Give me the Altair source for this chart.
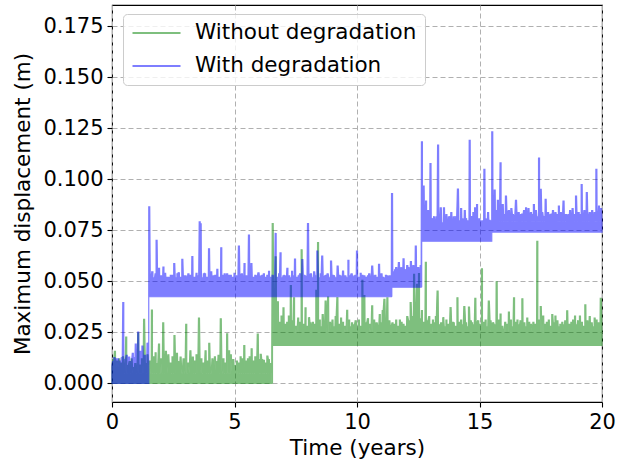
import altair as alt
import pandas as pd

FONT = "DejaVu Sans"
SERIES = ["Without degradation", "With degradation"]
COLORS = ["#008000", "#0000ff"]

# ---- Without degradation -------------------------------------------------
# steady bands: start / end time (years), floor and dense-band top (m)
green_seg_start = [0.0, 0.5, 6.55]
green_seg_end = [0.5, 6.55, 20.0]
green_seg_base = [0.0, 0.0, 0.0186]
green_seg_top = [0.008, 0.005, 0.0245]

# large transient peaks: time (years) and peak displacement (m)
green_peak_t = [
    0.12, 0.3,
    0.58, 0.8, 1.07, 1.31, 1.45, 1.63, 1.78, 1.92, 2.09, 2.3, 2.55, 2.8, 3.03,
    3.2, 3.3, 3.55, 3.82, 3.97, 4.2, 4.44, 4.7, 4.85, 5.1, 5.25, 5.4, 5.55,
    5.7, 5.95, 6.07, 6.2, 6.34, 6.45,
    6.56, 6.68, 6.77, 7.0, 7.15, 7.3, 7.43, 7.6, 7.74, 7.9, 8.04, 8.2, 8.34,
    8.41, 8.6, 8.72, 8.82, 9.0, 9.2, 9.35, 9.6, 9.8, 10.08, 10.22, 10.3, 10.45,
    10.62, 10.8, 10.93, 11.05, 11.12, 11.24, 11.45, 11.6, 11.75, 11.9, 12.05,
    12.19, 12.33, 12.45, 12.53, 12.65, 12.81, 12.95, 13.1, 13.29, 13.45, 13.52,
    13.65, 13.82, 13.95, 14.1, 14.25, 14.38, 14.57, 14.7, 14.83, 14.95, 15.1,
    15.25, 15.38, 15.55, 15.7, 15.86, 16.05, 16.2, 16.41, 16.55, 16.75, 16.95,
    17.1, 17.2, 17.36, 17.5, 17.6, 17.75, 17.97, 18.1, 18.3, 18.58, 18.75,
    18.9, 19.1, 19.32, 19.5, 19.7, 19.85, 19.95,
]
green_peak_v = [
    0.016, 0.012,
    0.0227, 0.012, 0.0245, 0.0317, 0.014, 0.036, 0.015, 0.0196, 0.030, 0.014,
    0.0235, 0.0129, 0.029, 0.016, 0.0129, 0.032, 0.016, 0.0196, 0.013, 0.0317,
    0.0243, 0.014, 0.011, 0.013, 0.0186, 0.012, 0.017, 0.0245, 0.0145, 0.0113,
    0.0137, 0.010,
    0.0786, 0.062, 0.040, 0.037, 0.030, 0.048, 0.0423, 0.032, 0.0655, 0.037,
    0.0325, 0.030, 0.0456, 0.069, 0.034, 0.0407, 0.0423, 0.031, 0.0423, 0.032,
    0.0358, 0.030, 0.031, 0.0505, 0.043, 0.032, 0.038, 0.030, 0.034, 0.036,
    0.0415, 0.0423, 0.030, 0.031, 0.031, 0.029, 0.033, 0.0399, 0.0538, 0.0489,
    0.0538, 0.036, 0.0593, 0.033, 0.031, 0.0456, 0.030, 0.0325, 0.031, 0.0374,
    0.030, 0.042, 0.031, 0.038, 0.0377, 0.030, 0.042, 0.031, 0.0562, 0.031,
    0.0407, 0.030, 0.0498, 0.034, 0.030, 0.035, 0.0423, 0.031, 0.0415, 0.032,
    0.029, 0.030, 0.0697, 0.0377, 0.033, 0.030, 0.034, 0.033, 0.029, 0.0356,
    0.030, 0.033, 0.033, 0.0385, 0.033, 0.032, 0.030, 0.042,
]

# small ripples along the top of each band
green_ripple_t = [
    0.05, 0.2, 0.38, 0.45,
    0.65, 0.72, 0.9, 0.95, 1.15, 1.22, 1.38, 1.55, 1.7, 1.85, 2.0, 2.15, 2.2,
    2.4, 2.47, 2.65, 2.7, 2.92, 3.1, 3.38, 3.45, 3.65, 3.72, 3.9, 4.1, 4.3,
    4.35, 4.55, 4.62, 4.78, 4.95, 5.0, 5.18, 5.32, 5.48, 5.62, 5.78, 5.85, 6.0,
    6.13, 6.27, 6.4, 6.5,
    6.85, 6.92, 7.08, 7.22, 7.37, 7.5, 7.67, 7.82, 7.97, 8.1, 8.27, 8.48, 8.55,
    8.66, 8.9, 9.08, 9.13, 9.28, 9.43, 9.5, 9.68, 9.75, 9.88, 9.95, 10.15,
    10.38, 10.52, 10.7, 10.87, 11.0, 11.18, 11.32, 11.38, 11.52, 11.68, 11.82,
    11.97, 12.12, 12.25, 12.39, 12.6, 12.72, 12.88, 13.02, 13.18, 13.22, 13.38,
    13.58, 13.72, 13.88, 14.03, 14.18, 14.32, 14.45, 14.5, 14.63, 14.77, 14.88,
    15.03, 15.17, 15.32, 15.45, 15.62, 15.78, 15.93, 16.12, 16.28, 16.35, 16.48,
    16.62, 16.68, 16.83, 16.88, 17.03, 17.28, 17.43, 17.68, 17.83, 17.9, 18.03,
    18.18, 18.23, 18.38, 18.45, 18.5, 18.67, 18.82, 18.97, 19.03, 19.18, 19.25,
    19.4, 19.45, 19.58, 19.63, 19.78, 19.9,
]
green_ripple_v = [
    0.012, 0.011, 0.010, 0.013,
    0.009, 0.011, 0.008, 0.010, 0.009, 0.012, 0.010, 0.011, 0.013, 0.010,
    0.012, 0.011, 0.016, 0.010, 0.013, 0.015, 0.011, 0.012, 0.010, 0.011,
    0.014, 0.012, 0.010, 0.011, 0.012, 0.011, 0.014, 0.012, 0.010, 0.016,
    0.012, 0.009, 0.010, 0.012, 0.011, 0.013, 0.011, 0.013, 0.012, 0.012,
    0.010, 0.012, 0.009,
    0.030, 0.033, 0.029, 0.033, 0.031, 0.028, 0.030, 0.029, 0.028, 0.030,
    0.029, 0.031, 0.028, 0.029, 0.030, 0.028, 0.033, 0.029, 0.030, 0.028,
    0.031, 0.028, 0.029, 0.031, 0.028, 0.030, 0.029, 0.031, 0.028, 0.030,
    0.029, 0.031, 0.028, 0.029, 0.028, 0.030, 0.028, 0.031, 0.033, 0.036,
    0.032, 0.030, 0.031, 0.029, 0.030, 0.033, 0.029, 0.028, 0.029, 0.030,
    0.028, 0.030, 0.029, 0.030, 0.028, 0.031, 0.029, 0.030, 0.029, 0.030,
    0.028, 0.031, 0.029, 0.031, 0.028, 0.029, 0.031, 0.028, 0.030, 0.029,
    0.031, 0.030, 0.028, 0.030, 0.029, 0.031, 0.029, 0.031, 0.028, 0.030,
    0.031, 0.028, 0.030, 0.029, 0.031, 0.029, 0.031, 0.029, 0.031, 0.030,
    0.028, 0.031, 0.029, 0.030, 0.028, 0.031, 0.029,
]

# ---- With degradation ----------------------------------------------------
blue_seg_start = [0.0, 1.5, 11.42, 12.64, 15.5]
blue_seg_end = [1.5, 11.42, 12.64, 15.5, 20.0]
blue_seg_base = [0.0, 0.0425, 0.0472, 0.0697, 0.0742]
blue_seg_top = [0.009, 0.0495, 0.053, 0.0757, 0.0795]

blue_peak_t = [
    0.1, 0.25, 0.46, 0.6, 0.7, 0.85, 0.97, 1.07, 1.15, 1.24, 1.35, 1.45,
    1.52, 1.65, 1.82, 1.92, 2.1, 2.26, 2.4, 2.54, 2.73, 2.87, 3.0, 3.12, 3.28,
    3.45, 3.58, 3.62, 3.8, 3.96, 4.05, 4.15, 4.3, 4.46, 4.6, 4.7, 4.85, 5.0,
    5.18, 5.3, 5.41, 5.59, 5.69, 5.85, 5.98, 6.1, 6.2, 6.41, 6.55, 6.68, 6.88,
    7.05, 7.16, 7.35, 7.47, 7.62, 7.77, 7.88, 8.0, 8.12, 8.25, 8.38, 8.58, 8.7,
    8.8, 8.94, 9.05, 9.21, 9.32, 9.43, 9.52, 9.65, 9.78, 9.9, 10.0, 10.15,
    10.3, 10.4, 10.5, 10.62, 10.75, 10.9, 11.0, 11.1, 11.25,
    11.43, 11.55, 11.71, 11.8, 11.9, 12.05, 12.2, 12.3, 12.4, 12.5,
    12.65, 12.72, 12.82, 12.9, 13.0, 13.15, 13.31, 13.42, 13.55, 13.65, 13.75,
    13.85, 13.95, 14.12, 14.25, 14.4, 14.5, 14.6, 14.75, 14.82, 14.9, 15.05,
    15.2, 15.35, 15.45,
    15.52, 15.62, 15.75, 15.86, 15.95, 16.08, 16.2, 16.3, 16.49, 16.6, 16.7,
    16.82, 16.9, 17.0, 17.1, 17.22, 17.3, 17.43, 17.5, 17.7, 17.8, 17.9, 18.0,
    18.1, 18.24, 18.32, 18.43, 18.55, 18.7, 18.8, 18.94, 19.05, 19.17, 19.28,
    19.38, 19.5, 19.6, 19.7, 19.77, 19.88, 19.96,
]
blue_peak_v = [
    0.013, 0.012, 0.0399, 0.014, 0.0129, 0.015, 0.0196, 0.0255, 0.016, 0.0186,
    0.014, 0.020,
    0.0868, 0.055, 0.0704, 0.0567, 0.0573, 0.052, 0.053, 0.059, 0.0545, 0.0611,
    0.053, 0.054, 0.0622, 0.054, 0.0795, 0.0785, 0.054, 0.066, 0.055, 0.053,
    0.0559, 0.0665, 0.054, 0.054, 0.053, 0.054, 0.0676, 0.054, 0.059, 0.073,
    0.059, 0.053, 0.0545, 0.053, 0.054, 0.055, 0.053, 0.0738, 0.0643, 0.053,
    0.0567, 0.055, 0.0612, 0.053, 0.061, 0.053, 0.0786, 0.054, 0.055, 0.0652,
    0.0627, 0.053, 0.054, 0.0603, 0.053, 0.0578, 0.053, 0.0554, 0.053, 0.0603,
    0.054, 0.053, 0.0652, 0.054, 0.053, 0.052, 0.054, 0.0578, 0.053, 0.0587,
    0.054, 0.052, 0.053,
    0.0933, 0.056, 0.0595, 0.057, 0.0614, 0.058, 0.060, 0.058, 0.0676, 0.057,
    0.1187, 0.097, 0.0897, 0.085, 0.108, 0.082, 0.1171, 0.0864, 0.0864, 0.083,
    0.082, 0.084, 0.082, 0.0955, 0.086, 0.085, 0.080, 0.1194, 0.084, 0.0864,
    0.088, 0.080, 0.1052, 0.084, 0.080,
    0.1236, 0.095, 0.090, 0.1084, 0.088, 0.0921, 0.085, 0.086, 0.090, 0.084,
    0.083, 0.085, 0.0864, 0.086, 0.084, 0.088, 0.085, 0.1105, 0.0954, 0.0905,
    0.084, 0.083, 0.085, 0.084, 0.0872, 0.084, 0.0897, 0.083, 0.085, 0.086,
    0.0921, 0.084, 0.0978, 0.085, 0.0938, 0.084, 0.085, 0.084, 0.1052, 0.0872,
    0.086,
]

blue_ripple_t = [
    0.05, 0.18, 0.33, 0.4, 0.53, 0.78, 0.92, 1.02, 1.2, 1.3, 1.4,
    1.58, 1.72, 1.78, 1.88, 2.0, 2.05, 2.17, 2.33, 2.47, 2.6, 2.67, 2.8, 2.93,
    3.06, 3.2, 3.36, 3.52, 3.7, 3.75, 3.88, 4.1, 4.22, 4.38, 4.53, 4.65, 4.78,
    4.92, 5.07, 5.12, 5.24, 5.36, 5.48, 5.53, 5.64, 5.78, 5.92, 6.04, 6.15,
    6.27, 6.34, 6.48, 6.62, 6.75, 6.82, 6.95, 7.0, 7.1, 7.23, 7.28, 7.42, 7.55,
    7.68, 7.72, 7.83, 7.94, 8.06, 8.18, 8.31, 8.45, 8.52, 8.64, 8.75, 8.87,
    9.0, 9.12, 9.27, 9.38, 9.48, 9.58, 9.72, 9.84, 9.95, 10.08, 10.22, 10.35,
    10.45, 10.56, 10.68, 10.82, 10.95, 11.05, 11.18, 11.3, 11.35,
    11.48, 11.6, 11.65, 11.76, 11.85, 11.95, 12.0, 12.1, 12.15, 12.25, 12.35,
    12.45, 12.55, 12.6,
    12.77, 12.86, 12.95, 13.05, 13.1, 13.2, 13.25, 13.36, 13.48, 13.6, 13.7,
    13.8, 13.9, 14.0, 14.05, 14.18, 14.3, 14.35, 14.45, 14.55, 14.68, 14.7,
    14.86, 14.97, 15.0, 15.1, 15.15, 15.25, 15.3, 15.4,
    15.57, 15.67, 15.7, 15.8, 15.9, 16.0, 16.03, 16.14, 16.25, 16.36, 16.42,
    16.55, 16.65, 16.76, 16.86, 16.95, 17.05, 17.15, 17.18, 17.27, 17.36,
    17.56, 17.62, 17.75, 17.85, 17.95, 18.05, 18.15, 18.2, 18.28, 18.37, 18.48,
    18.6, 18.65, 18.75, 18.85, 18.9, 19.0, 19.1, 19.12, 19.22, 19.33, 19.44,
    19.55, 19.65, 19.74, 19.82, 19.92,
]
blue_ripple_v = [
    0.011, 0.012, 0.011, 0.013, 0.012, 0.011, 0.013, 0.012, 0.012, 0.013, 0.011,
    0.053, 0.052, 0.054, 0.052, 0.053, 0.052, 0.054, 0.052, 0.053, 0.052, 0.054,
    0.052, 0.053, 0.052, 0.053, 0.052, 0.053, 0.052, 0.054, 0.052, 0.052, 0.053,
    0.052, 0.053, 0.052, 0.053, 0.052, 0.053, 0.052, 0.053, 0.052, 0.053, 0.052,
    0.053, 0.052, 0.053, 0.052, 0.053, 0.052, 0.053, 0.052, 0.053, 0.052, 0.054,
    0.052, 0.053, 0.052, 0.053, 0.052, 0.053, 0.052, 0.054, 0.052, 0.053, 0.052,
    0.053, 0.052, 0.053, 0.052, 0.054, 0.052, 0.053, 0.052, 0.053, 0.052, 0.053,
    0.052, 0.053, 0.052, 0.053, 0.052, 0.053, 0.052, 0.053, 0.052, 0.053, 0.052,
    0.053, 0.052, 0.053, 0.052, 0.053, 0.052, 0.053,
    0.055, 0.057, 0.055, 0.056, 0.055, 0.056, 0.055, 0.057, 0.055, 0.056, 0.055,
    0.056, 0.055, 0.058,
    0.083, 0.080, 0.082, 0.080, 0.081, 0.079, 0.082, 0.080, 0.079, 0.080, 0.079,
    0.081, 0.079, 0.080, 0.082, 0.080, 0.081, 0.079, 0.081, 0.079, 0.080, 0.082,
    0.080, 0.079, 0.081, 0.079, 0.080, 0.081, 0.079, 0.080,
    0.083, 0.085, 0.082, 0.083, 0.082, 0.083, 0.082, 0.084, 0.082, 0.083, 0.082,
    0.083, 0.082, 0.083, 0.082, 0.083, 0.082, 0.083, 0.082, 0.083, 0.082, 0.084,
    0.082, 0.083, 0.082, 0.083, 0.082, 0.083, 0.082, 0.083, 0.082, 0.083, 0.082,
    0.083, 0.082, 0.083, 0.082, 0.083, 0.082, 0.083, 0.082, 0.083, 0.082, 0.083,
    0.082, 0.083, 0.082, 0.083,
]

# half-widths (years) of a peak at its foot and at its tip
FOOT = 0.05
TIP = 0.02


def outline(name, start, end, base, top, times, peaks):
    """Outline of one series: flat band tops with narrow peaks, ordered by time."""
    events = sorted(zip(times, peaks))
    rows = []
    for t0, t1, lo, hi in zip(start, end, base, top):
        pts = [(t0, hi), (t1, hi)]
        for t, v in events:
            if t0 <= t < t1:
                pts += [(max(t - FOOT, t0), hi), (t - TIP, v), (t + TIP, v),
                        (min(t + FOOT, t1), hi)]
        pts.sort(key=lambda p: p[0])
        rows += [(x, y, lo) for x, y in pts]
    df = pd.DataFrame(rows, columns=["time", "upper", "lower"])
    df["series"] = name
    return df


green = outline(SERIES[0], green_seg_start, green_seg_end, green_seg_base, green_seg_top,
                green_peak_t + green_ripple_t, green_peak_v + green_ripple_v)
blue = outline(SERIES[1], blue_seg_start, blue_seg_end, blue_seg_base, blue_seg_top,
               blue_peak_t + blue_ripple_t, blue_peak_v + blue_ripple_v)

x_scale = alt.Scale(domain=[0, 20], nice=False, zero=False)
y_scale = alt.Scale(domain=[-0.0091, 0.1855], nice=False, zero=False)
series_scale = alt.Scale(domain=SERIES, range=COLORS)

legend = alt.Legend(
    title=None, orient="none", legendX=11, legendY=9,
    symbolType="stroke", symbolSize=2304, symbolStrokeWidth=2.2, symbolOpacity=0.5,
    clipHeight=22, rowPadding=11, padding=8,
    labelFont=FONT, labelFontSize=21.5, labelColor="black", labelOffset=13, labelLimit=400,
    fillColor="rgba(255,255,255,0.8)", strokeColor="#cccccc", cornerRadius=4,
)

x_axis = alt.Axis(
    values=[0, 5, 10, 15, 20], title="Time (years)", titleY=52, titleBaseline="alphabetic",
    labelFlush=False,
)
y_axis = alt.Axis(
    values=[0, 0.025, 0.05, 0.075, 0.1, 0.125, 0.15, 0.175], format=".3f",
    title="Maximum displacement (m)", titleX=-89, titleY=198.5, titleAngle=270,
    titleAlign="center", titleBaseline="middle", labelFlush=False,
)


def series_area(df):
    # element opacity keeps fill and outline as one translucent shape
    return alt.Chart(df).mark_area(opacity=0.5, strokeWidth=1.2, strokeJoin="miter").encode(
        x=alt.X("time:Q", scale=x_scale, axis=x_axis),
        y=alt.Y("upper:Q", scale=y_scale, axis=y_axis, stack=None),
        y2="lower:Q",
        fill=alt.Fill("series:N", scale=series_scale, legend=legend),
        stroke=alt.Stroke("series:N", scale=series_scale, legend=legend),
    )


chart = alt.layer(series_area(green), series_area(blue)).properties(
    width=490, height=397,
    autosize=alt.AutoSizeParams(type="none"),
    padding={"left": 112, "top": 5, "right": 17, "bottom": 61},
).configure_view(
    stroke="black", strokeWidth=1.1,
).configure_axis(
    labelFont=FONT, titleFont=FONT, labelFontSize=21, titleFontSize=21.5,
    labelColor="black", titleColor="black", titleFontWeight="normal",
    domain=False, tickColor="black", tickSize=5, tickWidth=1.1, labelPadding=4,
    grid=True, gridColor="#b0b0b0", gridDash=[5, 3], gridWidth=1,
)

chart.save("out.html", embed_options={"renderer": "svg", "actions": False})
